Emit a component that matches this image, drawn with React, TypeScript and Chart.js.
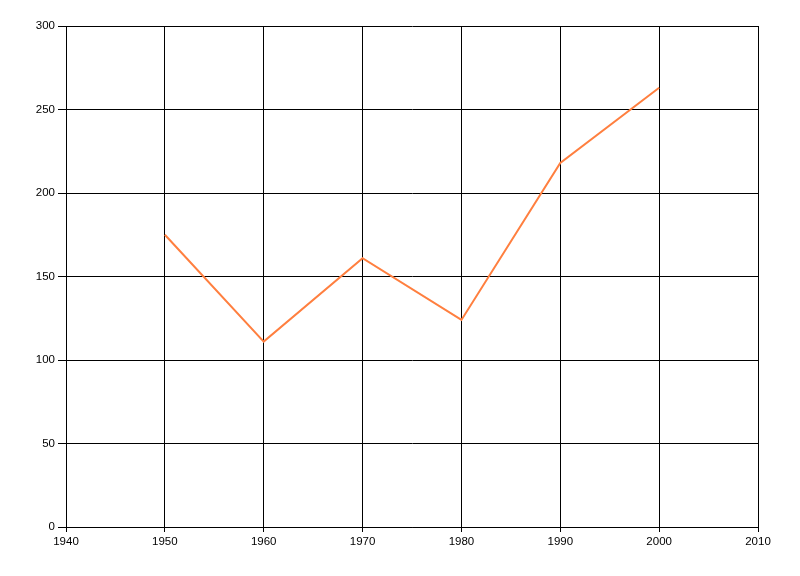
import React, { useEffect, useRef } from "react";
import { Chart, registerables } from "chart.js";

Chart.register(...registerables);

const years = [1950, 1960, 1970, 1980, 1990, 2000];
const values = [175, 111, 161, 124, 218, 263];
const xTickValues = [1940, 1950, 1960, 1970, 1980, 1990, 2000, 2010];
const yTickValues = [0, 50, 100, 150, 200, 250, 300];

export default function App() {
  const ref = useRef<HTMLCanvasElement | null>(null);

  useEffect(() => {
    if (!ref.current) return;
    const font = { family: "'Liberation Sans', Arial, sans-serif", size: 11.5 };
    const chart = new Chart(ref.current, {
      type: "line",
      data: {
        datasets: [
          {
            data: years.map((y, i) => ({ x: y, y: values[i] })),
            borderColor: "#FF7F3F",
            borderWidth: 2,
            pointRadius: 0,
            fill: false,
            tension: 0,
          },
        ],
      },
      options: {
        animation: false,
        responsive: false,
        maintainAspectRatio: false,
        layout: { padding: { top: 26, right: 42, left: 0, bottom: 0 } },
        plugins: { legend: { display: false }, tooltip: { enabled: false } },
        scales: {
          x: {
            type: "linear",
            min: 1940,
            max: 2010,
            afterBuildTicks: (scale: any) => {
              scale.ticks = xTickValues.map((v) => ({ value: v }));
            },
            afterFit: (scale: any) => {
              scale.height = 49;
            },
            ticks: {
              color: "#000",
              font,
              padding: 3,
              maxRotation: 0,
              autoSkip: false,
              callback: (v: any) => String(v),
            },
            grid: { color: "#000", lineWidth: 1, tickLength: 5, drawTicks: true },
            border: { color: "#000", width: 1 },
          },
          y: {
            type: "linear",
            min: 0,
            max: 300,
            afterBuildTicks: (scale: any) => {
              scale.ticks = yTickValues.map((v) => ({ value: v }));
            },
            afterFit: (scale: any) => {
              scale.width = 66;
            },
            ticks: {
              color: "#000",
              font,
              padding: 3,
              autoSkip: false,
              callback: (v: any) => String(v),
            },
            grid: { color: "#000", lineWidth: 1, tickLength: 8, drawTicks: true },
            border: { color: "#000", width: 1 },
          },
        },
      },
    });
    return () => chart.destroy();
  }, []);

  return (
    <div style={{ position: "fixed", left: 0, top: 0, width: 800, height: 576, background: "#fff" }}>
      <canvas ref={ref} width={800} height={576} style={{ width: 800, height: 576 }} />
    </div>
  );
}
